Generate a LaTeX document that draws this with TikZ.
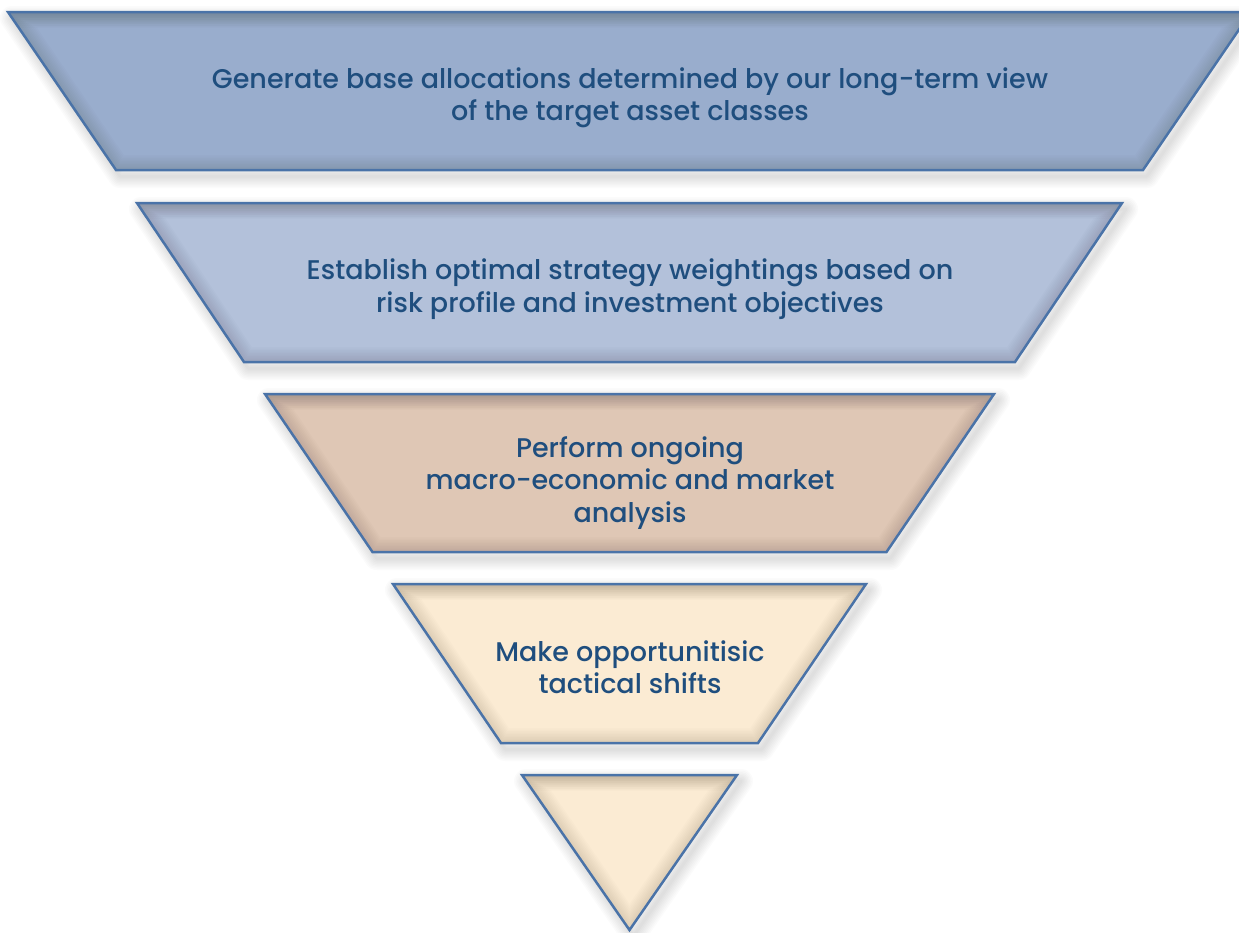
\documentclass[tikz,border=0pt]{standalone}
\usepackage{fontspec}
\newfontfamily\labelfont{Poppins Medium}
\definecolor{edgeblue}{HTML}{4A73A8}
\definecolor{ink}{HTML}{1F4E7E}
\definecolor{fillA}{HTML}{99ADCD}
\definecolor{fillB}{HTML}{B3C1DA}
\definecolor{fillC}{HTML}{DFC7B5}
\definecolor{fillD}{HTML}{FBEBD3}
\tikzset{
  lbl/.style={font=\labelfont\fontsize{27}{32.5}\selectfont, text=ink, align=center, inner sep=0pt},
  bandedge/.style={draw=edgeblue, line width=2.5pt, line join=miter},
}
% #1 top y, #2 top half width, #3 bottom y, #4 bottom half width, #5 fill colour
\newcommand\funnelband[5]{%
  \begin{scope}[shift={(4,6)}]
    \foreach \w in {24,21,18,15,12,9,6,3}
      \draw[line width=\w pt, black, opacity=0.014, line join=round]
        (629.5-#2,#1) -- (629.5+#2,#1) -- (629.5+#4,#3) -- (629.5-#4,#3) -- cycle;
  \end{scope}
  \begin{scope}
    \clip (629.5-#2,#1) -- (629.5+#2,#1) -- (629.5+#4,#3) -- (629.5-#4,#3) -- cycle;
    \fill[#5] (629.5-#2,#1) -- (629.5+#2,#1) -- (629.5+#4,#3) -- (629.5-#4,#3) -- cycle;
    \foreach \w in {30,27,24,21,18,15,12,9,6}
      \draw[line width=\w pt, black, opacity=0.011]
        (629.5-#2,#1) -- (629.5+#2,#1) -- (629.5+#4,#3) -- (629.5-#4,#3) -- cycle;
    \foreach \h in {2,4,6,8,10,12,14,16}
      \fill[black, opacity=0.012] (0,#1) rectangle (1300,#1+\h);
  \end{scope}
  \draw[bandedge] (629.5-#2,#1) -- (629.5+#2,#1) -- (629.5+#4,#3) -- (629.5-#4,#3) -- cycle;
}
\begin{document}
\begin{tikzpicture}[x=1pt, y=-1pt]
  \useasboundingbox (0,0) rectangle (1239,932);
  \fill[white] (0,0) rectangle (1239,932);
  \funnelband{12}{621.5}{170}{513.5}{fillA}
  \funnelband{203}{492.5}{362}{385.5}{fillB}
  \funnelband{394}{364.5}{552}{257}{fillC}
  \funnelband{584}{236.5}{743}{128.5}{fillD}
  \funnelband{775}{107.5}{930}{0}{fillD}
  \node[lbl] (t1) at (630,98) {Generate base allocations determined by our long-term view\\of the target asset classes};
  \node[lbl] (t2) at (630,289) {Establish optimal strategy weightings based on\\risk profile and investment objectives};
  \node[lbl] (t3) at (630,483) {Perform ongoing\\macro-economic and market\\analysis};
  \node[lbl] (t4) at (630,667) {Make opportunitisic\\tactical shifts};
\end{tikzpicture}
\end{document}
